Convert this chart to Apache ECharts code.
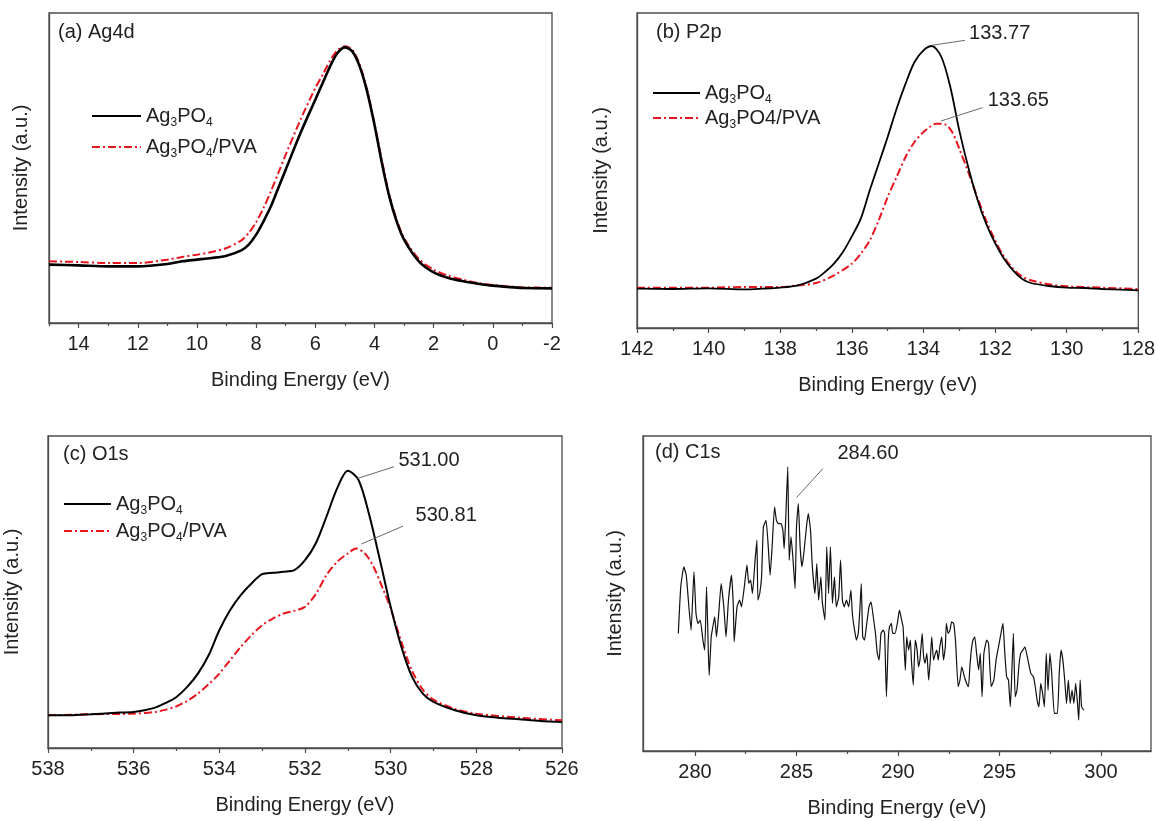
<!DOCTYPE html>
<html>
<head>
<meta charset="utf-8">
<script src="https://cdn.jsdelivr.net/npm/echarts@6/dist/echarts.min.js"></script>
<style>html,body{margin:0;padding:0;background:#fff}#chart{width:1158px;height:821px}</style>
</head>
<body>
<div id="chart"></div>
<script>
// ---------- (a) Ag4d ----------
const agE = [15,14,13,12,11,10.5,10,9.5,9,8.5,8.25,8,7.75,7.5,7.25,7,6.5,6,5.75,5.5,5.25,5,4.75,4.5,4.25,4,3.75,3.5,3.25,3,2.5,2,1.5,1,0.5,0,-0.5,-1,-2];
const agPure = [205,203,200,200,207,215,220,225,232,248,265,295,335,380,435,490,600,700,750,800,840,857,845,800,725,625,510,410,335,280,215,182,165,155,148,142,138,135,134];
const agPVA  = [215,213,210,210,220,228,235,243,255,278,300,332,375,425,480,535,640,735,775,817,848,860,850,805,730,628,518,415,340,285,222,190,172,160,150,144,140,137,136];

// ---------- (b) P2p ----------
const pE1 = [142,141,140,139,138.5,138,137.5,137,136.75,136.5,136.25,136,135.75,135.5,135.25,135,134.75,134.5,134.25,134,133.77,133.5,133.25,133,132.75,132.5,132.25,132,131.75,131.5,131.25,131,130.5,130,129.5,129,128.5,128];
const pPure = [135,134,136,133,135,138,145,165,185,210,245,292,345,430,510,590,675,750,815,850,863,830,740,610,500,405,330,272,225,190,165,152,143,138,137,134,132,130];
const pE2 = [142,140,139,138,137.5,137,136.5,136,135.75,135.5,135.25,135,134.75,134.5,134.25,134,133.8,133.65,133.4,133.2,133,132.75,132.5,132.25,132,131.75,131.5,131.25,131,130.5,130,129,128];
const pPVA = [138,138,140,140,145,152,175,210,240,280,340,410,470,530,575,605,622,630,628,605,555,485,410,340,280,230,195,172,160,148,142,138,134];

// ---------- (c) O1s ----------
const oE1 = [538,537.5,537,536.5,536,535.75,535.5,535.25,535,534.75,534.5,534.25,534,533.75,533.5,533.25,533,532.75,532.5,532.25,532,531.75,531.5,531.25,531,530.75,530.5,530.25,530,529.75,529.5,529.25,529,528.5,528,527.5,527,526.5,526];
const oPure = [115,115,118,122,125,130,138,152,170,200,240,295,370,430,475,510,538,542,545,550,580,630,710,795,848,820,715,580,440,320,230,180,155,130,115,108,103,98,95];
const oE2 = [538,537,536,535.5,535.25,535,534.75,534.5,534.25,534,533.75,533.5,533.25,533,532.75,532.5,532.25,532,531.75,531.5,531.25,531,530.81,530.6,530.4,530.2,530,529.75,529.5,529.25,529,528.5,528,527,526];
const oPVA = [115,118,120,125,132,142,158,180,208,240,280,320,355,385,405,420,428,440,478,535,575,600,615,600,560,500,435,335,248,192,162,134,120,108,100];

// ---------- (d) C1s ----------
const cE = [279.18,279.30,279.45,279.57,279.70,279.81,279.95,280.05,280.15,280.26,280.39,280.48,280.57,280.66,280.70,280.80,280.88,280.97,281.06,281.17,281.29,281.42,281.53,281.65,281.80,281.89,281.93,282.07,282.20,282.29,282.43,282.56,282.65,282.74,282.83,282.96,283.05,283.10,283.19,283.28,283.37,283.50,283.61,283.70,283.79,283.92,284.01,284.10,284.24,284.33,284.39,284.46,284.57,284.64,284.73,284.82,284.93,285.00,285.09,285.18,285.27,285.36,285.49,285.58,285.69,285.78,285.91,286.00,286.09,286.20,286.27,286.40,286.49,286.58,286.67,286.77,286.87,286.96,287.08,287.17,287.26,287.35,287.46,287.57,287.68,287.75,287.86,287.95,288.04,288.11,288.19,288.26,288.35,288.44,288.57,288.67,288.76,288.89,288.98,289.07,289.16,289.27,289.34,289.43,289.52,289.58,289.67,289.74,289.85,289.98,290.07,290.18,290.25,290.36,290.43,290.52,290.61,290.66,290.75,290.85,290.94,291.01,291.08,291.19,291.26,291.33,291.42,291.51,291.59,291.66,291.75,291.84,291.91,291.98,292.06,292.15,292.24,292.33,292.38,292.47,292.56,292.64,292.74,292.84,292.96,293.05,293.14,293.27,293.38,293.47,293.54,293.61,293.69,293.78,293.87,293.97,294.05,294.14,294.23,294.37,294.46,294.59,294.72,294.83,294.95,295.10,295.17,295.26,295.35,295.44,295.53,295.58,295.68,295.77,295.86,295.95,296.04,296.15,296.25,296.40,296.54,296.67,296.76,296.85,296.94,297.03,297.12,297.21,297.30,297.39,297.48,297.57,297.70,297.85,297.94,298.03,298.12,298.21,298.30,298.39,298.48,298.57,298.66,298.75,298.84,298.90,298.97,299.04,299.15];
const cI = [360,500,560,535,440,370,545,420,390,400,340,310,500,300,235,350,380,410,350,420,510,440,350,460,535,440,335,440,460,440,500,565,510,520,480,580,640,460,480,530,680,700,620,535,610,740,700,690,690,670,615,690,860,580,650,590,495,680,750,620,560,600,680,720,670,560,480,570,460,530,455,400,620,480,620,450,530,440,470,580,460,440,460,440,490,420,370,340,360,420,510,350,340,380,440,455,420,360,300,280,360,370,360,170,340,380,390,360,360,395,430,400,380,250,350,310,340,280,205,340,310,260,280,360,290,270,300,220,280,350,280,300,310,280,320,350,280,320,390,360,370,395,390,330,200,220,260,230,210,200,260,310,340,350,300,250,300,170,300,340,330,200,220,280,320,370,390,300,230,220,140,200,360,170,190,260,300,310,320,280,240,230,200,160,140,210,180,140,300,190,300,240,120,120,240,310,280,220,150,220,150,190,150,210,150,100,220,140,130];

// ---------- axis ticks ----------
const ticksA = [14,12,10,8,6,4,2,0,-2];
const minorA = [15,13,11,9,7,5,3,1,-1];
const ticksB = [142,140,138,136,134,132,130,128];
const minorB = [141,139,137,135,133,131,129];
const ticksC = [538,536,534,532,530,528,526];
const minorC = [537,535,533,531,529,527];
const ticksD = [280,285,290,295,300];
const minorD = [282.5,287.5,292.5,297.5,302.5];

// ---------- annotations: [label, text-x, text-y, arrow-from-x, arrow-from-y, arrow-to-x, arrow-to-y] ----------
const annB = [['133.77', 132.74, 901, 132.84, 880, 133.77, 865], ['133.65', 132.22, 700, 132.35, 678, 133.51, 638]];
const annC = [['531.00', 529.83, 880, 529.92, 860, 530.77, 825], ['530.81', 529.43, 713, 529.71, 682, 530.69, 628]];
const annD = [['284.60', 286.99, 900, 286.30, 855, 285.00, 768]];

const FONT = 'Liberation Sans, Arial, Helvetica, sans-serif';
const RED = '#e8141e';
const FRAME = '#4d4d4d';

const grids = [
  {left: 49, top: 13, width: 503, height: 310},
  {left: 637, top: 13, width: 512, height: 315},
  {left: 48, top: 436, width: 514, height: 312},
  {left: 643, top: 436, width: 508, height: 315}
];
const xCfg = [
  {min: -2, max: 15, ticks: ticksA, minor: minorA},
  {min: 128, max: 142, ticks: ticksB, minor: minorB},
  {min: 526, max: 538, ticks: ticksC, minor: minorC},
  {min: 277.44, max: 302.46, ticks: ticksD, minor: minorD, noInverse: true}
];
const yCfg = [
  {min: 30, max: 960, gap: 18},
  {min: 17, max: 962, gap: 26},
  {min: 17, max: 952, gap: 26},
  {min: 7, max: 953, gap: 18}
];

const pairs = (xs, ys) => xs.map((x, i) => [x, ys[i]]);

const xAxes = [];
xCfg.forEach((c, i) => {
  xAxes.push({
    type: 'value', gridIndex: i, min: c.min, max: c.max, inverse: !c.noInverse,
    name: 'Binding Energy (eV)', nameLocation: 'middle', nameGap: 47,
    nameTextStyle: {fontFamily: FONT, fontSize: 20, color: '#222'},
    axisLine: {show: true, onZero: false, lineStyle: {color: FRAME, width: 1.3}},
    axisTick: {show: true, inside: false, length: 5, customValues: c.ticks, lineStyle: {color: FRAME, width: 1.2}},
    axisLabel: {show: true, customValues: c.ticks, margin: 11, fontFamily: FONT, fontSize: 20, color: '#222'},
    splitLine: {show: false}
  });
});
xCfg.forEach((c, i) => {
  xAxes.push({
    type: 'value', gridIndex: i, min: c.min, max: c.max, inverse: !c.noInverse, position: 'bottom',
    axisLine: {show: false, onZero: false},
    axisTick: {show: true, inside: false, length: 3, customValues: c.minor, lineStyle: {color: FRAME, width: 1.2}},
    axisLabel: {show: false, customValues: c.minor},
    splitLine: {show: false}
  });
});
const yAxes = yCfg.map((c, i) => ({
  type: 'value', gridIndex: i, min: c.min, max: c.max,
  name: 'Intensity (a.u.)', nameLocation: 'middle', nameGap: c.gap, nameRotate: 90,
  nameTextStyle: {fontFamily: FONT, fontSize: 20, color: '#222'},
  axisLine: {show: true, onZero: false, lineStyle: {color: FRAME, width: 1.3}},
  axisTick: {show: false}, axisLabel: {show: false}, splitLine: {show: false}
}));

function annotate(list) {
  return {
    markPoint: {
      silent: true, symbol: 'circle', symbolSize: 1, itemStyle: {color: 'rgba(0,0,0,0)'},
      label: {show: true, position: 'right', distance: 0, formatter: '{b}', fontFamily: FONT, fontSize: 20, color: '#222'},
      data: list.map(a => ({name: a[0], coord: [a[1], a[2]]}))
    },
    markLine: {
      silent: true, symbol: ['none', 'arrow'], symbolSize: [0, 8],
      lineStyle: {color: '#6a6a6a', width: 1, type: 'solid'}, label: {show: false},
      data: list.map(a => [{coord: [a[3], a[4]]}, {coord: [a[5], a[6]]}])
    }
  };
}

function line(name, idx, data, color, width, dashed, extra) {
  return Object.assign({
    name: name, type: 'line', xAxisIndex: idx, yAxisIndex: idx, data: data,
    showSymbol: false, symbol: 'circle', symbolSize: 0, smooth: 0.3,
    lineStyle: {color: color, width: width, type: dashed ? [8, 3, 2, 3] : 'solid'},
    itemStyle: {color: color}, z: dashed ? 3 : 4
  }, extra || {});
}

const series = [
  line('a2', 0, pairs(agE, agPVA), RED, 2, true),
  line('a1', 0, pairs(agE, agPure), '#000', 2.6, false),
  line('b2', 1, pairs(pE2, pPVA), RED, 2, true),
  line('b1', 1, pairs(pE1, pPure), '#000', 1.8, false, annotate(annB)),
  line('c2', 2, pairs(oE2, oPVA), RED, 2, true),
  line('c1', 2, pairs(oE1, oPure), '#000', 2, false, annotate(annC)),
  line('d1', 3, pairs(cE, cI), '#111', 1.2, false, Object.assign({smooth: 0.15}, annotate(annD)))
];

const legendNames = {
  a1: '{n|Ag}{s|3}{n|PO}{s|4}', a2: '{n|Ag}{s|3}{n|PO}{s|4}{n|/PVA}',
  b1: '{n|Ag}{s|3}{n|PO}{s|4}', b2: '{n|Ag}{s|3}{n|PO4/PVA}',
  c1: '{n|Ag}{s|3}{n|PO}{s|4}', c2: '{n|Ag}{s|3}{n|PO}{s|4}{n|/PVA}'
};
const rich = {
  n: {fontFamily: FONT, fontSize: 20, color: '#222', lineHeight: 26, verticalAlign: 'middle'},
  s: {fontFamily: FONT, fontSize: 12, color: '#222', lineHeight: 4, verticalAlign: 'bottom'}
};
function legend(names, left, top, gap, w) {
  return {
    data: names, left: left, top: top, orient: 'vertical', itemGap: gap, itemWidth: w, itemHeight: 14,
    padding: 0, selectedMode: false,
    itemStyle: {opacity: 0},
    formatter: n => legendNames[n], textStyle: {rich: rich}
  };
}

const titles = [
  {text: '(a) Ag4d', left: 58, top: 22},
  {text: '(b) P2p', left: 656, top: 22},
  {text: '(c) O1s', left: 63, top: 444},
  {text: '(d) C1s', left: 655, top: 442}
].map(t => Object.assign(t, {textStyle: {fontFamily: FONT, fontSize: 20, fontWeight: 'normal', color: '#222'}, padding: 0}));

const option = {
  animation: false,
  backgroundColor: '#fff',
  title: titles,
  grid: grids.map(g => Object.assign({show: true, borderColor: FRAME, borderWidth: 1.3, backgroundColor: 'transparent'}, g)),
  xAxis: xAxes,
  yAxis: yAxes,
  legend: [
    legend(['a1', 'a2'], 91, 106, 8, 49),
    legend(['b1', 'b2'], 652, 83, 2, 47),
    legend(['c1', 'c2'], 63, 494, 4, 47)
  ],
  series: series
};

const chart = echarts.init(document.getElementById('chart'), null, {renderer: 'canvas'});
chart.setOption(option);
</script>
</body>
</html>
